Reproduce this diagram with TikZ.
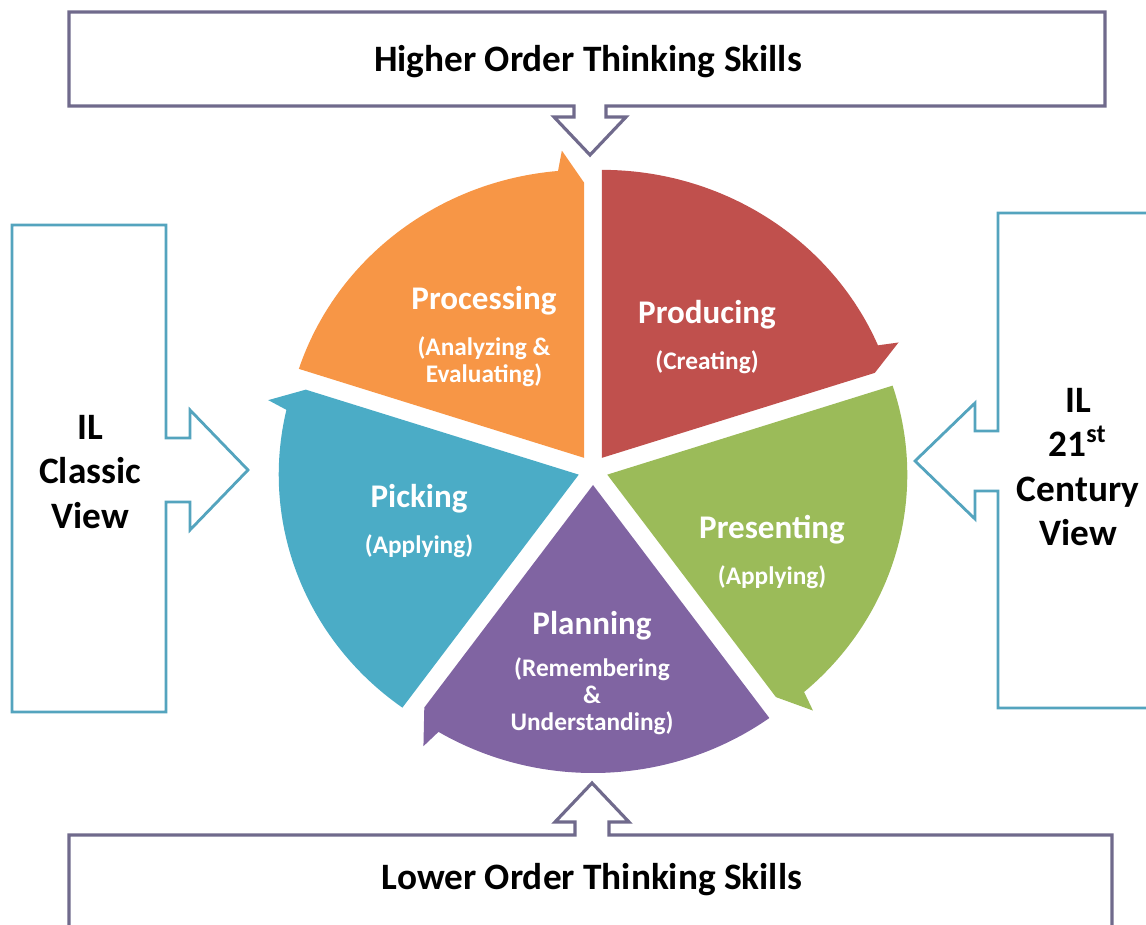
\documentclass[tikz,border=0pt]{standalone}
\usepackage{fontspec}
\setmainfont{Carlito}
\usetikzlibrary{positioning}

\definecolor{procorange}{HTML}{F79646}
\definecolor{prodred}{HTML}{C0504D}
\definecolor{presgreen}{HTML}{9BBB59}
\definecolor{planpurple}{HTML}{8064A2}
\definecolor{pickblue}{HTML}{4BACC6}
\definecolor{skillline}{RGB}{112,106,140}
\definecolor{viewline}{RGB}{84,164,190}

\tikzset{
  skillbox/.style={draw=skillline, line width=0.9pt, fill=white},
  viewbox/.style={draw=viewline, line width=0.8pt, fill=white},
  boxtext/.style={font=\bfseries\fontsize{10.6}{12.6}\selectfont, align=center, inner sep=0pt},
  steplbl/.style={font=\bfseries\fontsize{9.4}{11}\selectfont, text=white, inner sep=0pt},
  subl/.style={font=\bfseries\fontsize{7.2}{7.6}\selectfont, text=white, align=center, inner sep=0pt}
}

% one slice of the cycle: colour, start angle (arrow end is 72 deg clockwise)
\newcommand{\pieseg}[2]{%
  \fill[#1, shift={(#2-36:15)}] (0,0) -- (#2:300 and 288)
    arc[start angle=#2, end angle=#2-67, x radius=300, y radius=288]
    -- (#2-68:320 and 308) -- (#2-72:287 and 275) -- cycle;}

\begin{document}
\begin{tikzpicture}[x=0.01cm,y=0.01cm]

  \useasboundingbox (0,0) rectangle (1146,924);

  \draw[skillbox] (69,912) -- (1105,912) -- (1105,818) -- (606,818) -- (606,807) -- (626,807)
    -- (590,769) -- (554,807) -- (574,807) -- (574,818) -- (69,818) -- cycle;
  \draw[skillbox] (69,-2) -- (69,89) -- (575,89) -- (575,102) -- (555,102) -- (592,141)
    -- (629,102) -- (609,102) -- (609,89) -- (1112,89) -- (1112,-2);
  \draw[viewbox] (12,699) -- (166,699) -- (166,486) -- (190,486) -- (190,514) -- (248,454)
    -- (190,394) -- (190,422) -- (166,422) -- (166,212) -- (12,212) -- cycle;
  \draw[viewbox] (1150,711) -- (998,711) -- (998,493) -- (975,493) -- (975,521) -- (915,463)
    -- (975,405) -- (975,433) -- (998,433) -- (998,216) -- (1150,216);

  \begin{scope}[shift={(593,454)}]
    \pieseg{procorange}{162}
    \pieseg{prodred}{90}
    \pieseg{presgreen}{18}
    \pieseg{planpurple}{-54}
    \pieseg{pickblue}{234}
  \end{scope}

  \node[boxtext] (higher) at (588,862) {Higher Order Thinking Skills};
  \node[boxtext] (lower) at (592,44) {Lower Order Thinking Skills};
  \node[boxtext] (classic) at (90,452) {IL\\Classic\\View};
  \node[boxtext] (century) at (1078,457) {IL\\21\textsuperscript{st}\\Century\\View};

  \node[steplbl] (proc) at (484,623) {Processing};
  \node[subl, below=2mm of proc] (proc_sub) {(Analyzing \&\\Evaluating)};
  \node[steplbl] (prod) at (707,609) {Producing};
  \node[subl, below=2mm of prod] (prod_sub) {(Creating)};
  \node[steplbl] (pick) at (419,425) {Picking};
  \node[subl, below=2mm of pick] (pick_sub) {(Applying)};
  \node[steplbl] (pres) at (772,394) {Presenting};
  \node[subl, below=2mm of pres] (pres_sub) {(Applying)};
  \node[steplbl] (plan) at (592,298) {Planning};
  \node[subl, below=1.6mm of plan] (plan_sub) {(Remembering\\\&\\Understanding)};

\end{tikzpicture}
\end{document}
